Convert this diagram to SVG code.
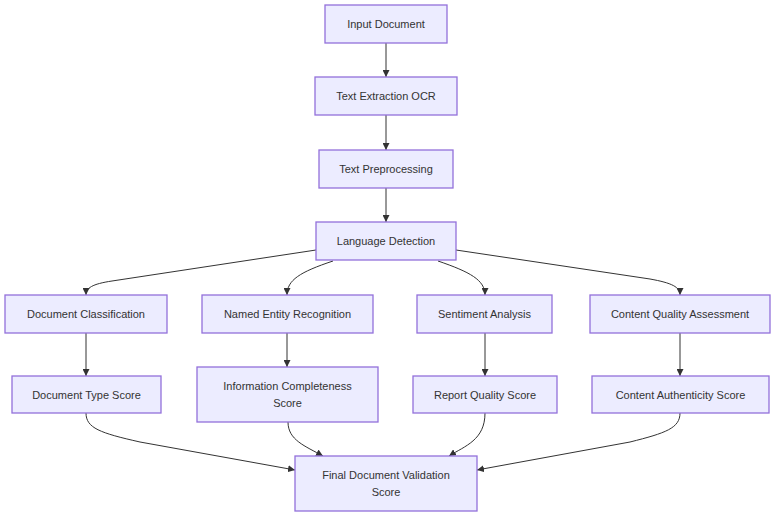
<svg xmlns="http://www.w3.org/2000/svg" width="784" height="522" viewBox="0 0 784 522">
<defs>
<marker id="arr" viewBox="0 0 10 10" refX="10" refY="5" markerUnits="userSpaceOnUse" markerWidth="7" markerHeight="7" orient="auto">
<path d="M0,0 L10,5 L0,10 z" fill="#333333"/>
</marker>
<style>
.node rect{fill:#ECECFF;stroke:#9370DB;stroke-width:1.3;}
.node text{font-family:"Liberation Sans",Arial,sans-serif;font-size:11px;fill:#333333;text-anchor:middle;dominant-baseline:central;}
#edges path{fill:none;stroke:#333333;stroke-width:1;marker-end:url(#arr);}
</style>
</defs>
<rect width="784" height="522" fill="#ffffff"/>
<g id="edges">
<path d="M386,43 L386,77"/>
<path d="M386,115 L386,150"/>
<path d="M386,188 L386,222"/>
<path d="M316,250 L112,281 C92,284 86,288 86,295"/>
<path d="M333,261 C300,272 287,280 287,295"/>
<path d="M438,261 C470,272 485,280 485,295"/>
<path d="M456,250 L650,279 C672,283 680,287 680,295"/>
<path d="M86,333 L86,376"/>
<path d="M287,333 L287,367"/>
<path d="M485,333 L485,376"/>
<path d="M680,333 L680,376"/>
<path d="M86,413 C86,428 100,433 140,442 L295,470"/>
<path d="M288,422 C288,440 305,446 323,456"/>
<path d="M485,413 C485,440 465,446 449,456"/>
<path d="M680,413 C680,428 666,433 630,442 L477,470"/>
</g>
<g id="input" class="node"><rect x="325" y="5" width="122" height="38"/><text x="386" y="24">Input Document</text></g>
<g id="ocr" class="node"><rect x="315" y="77" width="142" height="38"/><text x="386" y="96">Text Extraction OCR</text></g>
<g id="preproc" class="node"><rect x="319" y="150" width="134" height="38"/><text x="386" y="169">Text Preprocessing</text></g>
<g id="lang" class="node"><rect x="316" y="222" width="140" height="38"/><text x="386" y="241">Language Detection</text></g>
<g id="docclass" class="node"><rect x="5" y="295" width="162" height="38"/><text x="86" y="314">Document Classification</text></g>
<g id="ner" class="node"><rect x="202" y="295" width="171" height="38"/><text x="287.5" y="314">Named Entity Recognition</text></g>
<g id="sentiment" class="node"><rect x="417" y="295" width="135" height="38"/><text x="484.5" y="314">Sentiment Analysis</text></g>
<g id="cqa" class="node"><rect x="590" y="295" width="180" height="38"/><text x="680" y="314">Content Quality Assessment</text></g>
<g id="doctype" class="node"><rect x="12" y="376" width="149" height="37"/><text x="86.5" y="394.5">Document Type Score</text></g>
<g id="infocomp" class="node"><rect x="197" y="367" width="181" height="55"/><text x="287.5" y="386">Information Completeness</text><text x="287.5" y="403">Score</text></g>
<g id="report" class="node"><rect x="413" y="376" width="144" height="37"/><text x="485" y="394.5">Report Quality Score</text></g>
<g id="auth" class="node"><rect x="592" y="376" width="177" height="37"/><text x="680.5" y="394.5">Content Authenticity Score</text></g>
<g id="final" class="node"><rect x="295" y="456" width="182" height="55"/><text x="386" y="475">Final Document Validation</text><text x="386" y="492">Score</text></g>
</svg>
